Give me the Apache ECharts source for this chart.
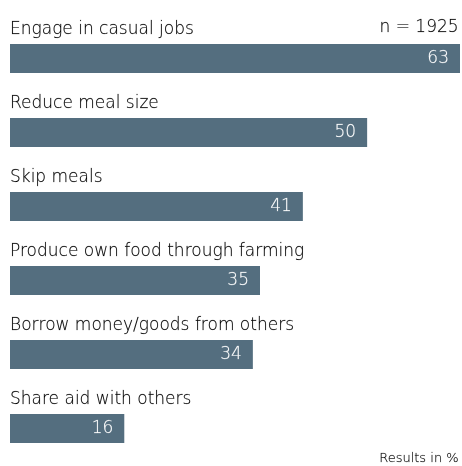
<!DOCTYPE html>
<html><head><meta charset="utf-8">
<script src="https://cdn.jsdelivr.net/npm/echarts@6/dist/echarts.min.js"></script>
<style>html,body{margin:0;padding:0;background:#fff}#c{width:462px;height:466px}</style>
</head><body><div id="c"></div>
<script>
const categories = ["Engage in casual jobs","Reduce meal size","Skip meals","Produce own food through farming","Borrow money/goods from others","Share aid with others"];
const values = [63,50,41,35,34,16];
const sampleNote = "n = 1925";
const unitNote = "Results in %";
const FONT = "DejaVu Sans";
const chart = echarts.init(document.getElementById('c'));
chart.setOption({
  animation:false,
  grid:{left:10,right:2,top:21.5,bottom:0.5,containLabel:false},
  title:[
    {text:sampleNote,right:3,top:19,padding:0,textStyle:{fontFamily:FONT,fontSize:17,fontWeight:200,color:'#000',textBorderColor:'rgba(0,0,0,0.35)',textBorderWidth:0.4}},
    {text:unitNote,right:3,top:452,padding:0,textStyle:{fontFamily:FONT,fontSize:13,fontWeight:200,color:'#000',textBorderColor:'rgba(0,0,0,0.35)',textBorderWidth:0.4}}
  ],
  xAxis:{type:'value',min:0,max:63,show:false},
  yAxis:{type:'category',data:categories,inverse:true,
    axisLine:{show:false},axisTick:{show:false},splitLine:{show:false},
    axisLabel:{inside:true,margin:0,align:'left',verticalAlign:'bottom',padding:[0,0,20,0],
      fontFamily:FONT,fontSize:17,fontWeight:200,color:'#000',textBorderColor:'rgba(0,0,0,0.35)',textBorderWidth:0.4}},
  series:[{type:'bar',data:values,barWidth:29,
    itemStyle:{color:'#546e7f'},
    label:{show:true,position:'insideRight',distance:11,color:'#fff',fontFamily:FONT,fontSize:17,fontWeight:200,textBorderColor:'rgba(255,255,255,0.4)',textBorderWidth:0.4}}]
});
</script></body></html>
